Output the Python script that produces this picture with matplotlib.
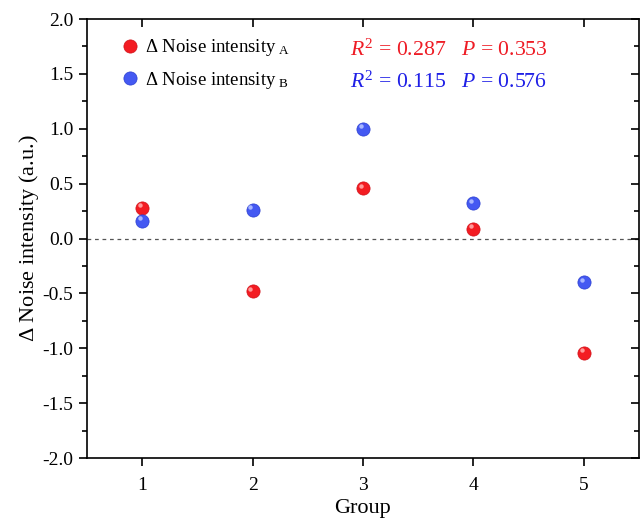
import matplotlib
matplotlib.use("Agg")
import matplotlib.pyplot as plt
import matplotlib.transforms as mtransforms
from matplotlib.ticker import MultipleLocator

plt.rcParams['font.family'] = ['Liberation Serif', 'DejaVu Serif']
plt.rcParams['mathtext.fontset'] = 'custom'
plt.rcParams['mathtext.rm'] = 'Liberation Serif'
plt.rcParams['mathtext.it'] = 'Liberation Serif:italic'
plt.rcParams['mathtext.bf'] = 'Liberation Serif:bold'

groups = [1, 2, 3, 4, 5]
noise_a = [0.28, -0.48, 0.46, 0.09, -1.04]
noise_b = [0.16, 0.26, 1.00, 0.32, -0.40]
label_a = r'$\Delta$ Noise intensity$_{\ \mathrm{A}}$'
label_b = r'$\Delta$ Noise intensity$_{\ \mathrm{B}}$'
stats_a = r'$R^2$ = 0.287   $P$ = 0.353'
stats_b = r'$R^2$ = 0.115   $P$ = 0.576'
xticks = [1, 2, 3, 4, 5]
yticks = [-2.0, -1.5, -1.0, -0.5, 0.0, 0.5, 1.0, 1.5, 2.0]

red = '#f31c22'
blue = '#4459f2'
red_txt = '#ee1c25'
blue_txt = '#1f1fe6'

fig = plt.figure(figsize=(6.42, 5.18), dpi=100)
ax = fig.add_axes([0.1355, 0.1158, 0.8598, 0.8475])

ax.axhline(0, color='#555555', lw=0.9, ls=(0, (3, 3)), zorder=1)

ms = 9.5
la, = ax.plot(groups, noise_a, 'o', color=red, ms=ms, mec='#d01018', mew=0.5, zorder=3, label=label_a)
lb, = ax.plot(groups, noise_b, 'o', color=blue, ms=ms, mec='#2a3ed0', mew=0.5, zorder=3, label=label_b)
hl = mtransforms.offset_copy(ax.transData, fig=fig, x=-1.6, y=1.8, units='points')
ax.plot(groups, noise_a, 'o', color='#ff9a9a', ms=3.2, mew=0, transform=hl, zorder=4)
ax.plot(groups, noise_b, 'o', color='#a8b6ff', ms=3.2, mew=0, transform=hl, zorder=4)

ax.set_xlim(0.5, 5.5)
ax.set_ylim(-2.0, 2.0)
ax.set_xticks(xticks)
ax.set_xticklabels([str(x) for x in xticks])
ax.set_yticks(yticks)
ax.set_yticklabels([f'{y:.1f}' for y in yticks])
ax.yaxis.set_minor_locator(MultipleLocator(0.25))

ax.tick_params(axis='both', which='major', direction='out', length=6, width=1.2, labelsize=14,
               top=True, right=True)
ax.tick_params(axis='x', which='major', pad=8)
ax.tick_params(axis='y', which='major', pad=4)
ax.tick_params(axis='y', which='minor', direction='out', length=3.5, width=1.2, right=True)
# right / top ticks point inward
for t in ax.yaxis.get_major_ticks() + ax.yaxis.get_minor_ticks():
    t.tick2line.set_marker(matplotlib.lines.TICKLEFT)
for t in ax.xaxis.get_major_ticks():
    t.tick2line.set_marker(matplotlib.lines.TICKDOWN)

for s in ax.spines.values():
    s.set_linewidth(1.2)

ax.set_xlabel('Group', fontsize=16, labelpad=3)
ax.set_ylabel(r'$\Delta$ Noise intensity (a.u.)', fontsize=16, labelpad=1)

leg = ax.legend(handles=[la, lb], loc='upper left', bbox_to_anchor=(0.027, 0.997), frameon=False,
                fontsize=13.5, handletextpad=0.2, handlelength=1.2, labelspacing=0.62, markerscale=1.0)

ax.text(0.477, 0.928, stats_a, transform=ax.transAxes, color=red_txt, fontsize=15.7, va='center', ha='left')
ax.text(0.477, 0.855, stats_b, transform=ax.transAxes, color=blue_txt, fontsize=15.7, va='center', ha='left')

fig.savefig('out.png', dpi=100, facecolor='white')
